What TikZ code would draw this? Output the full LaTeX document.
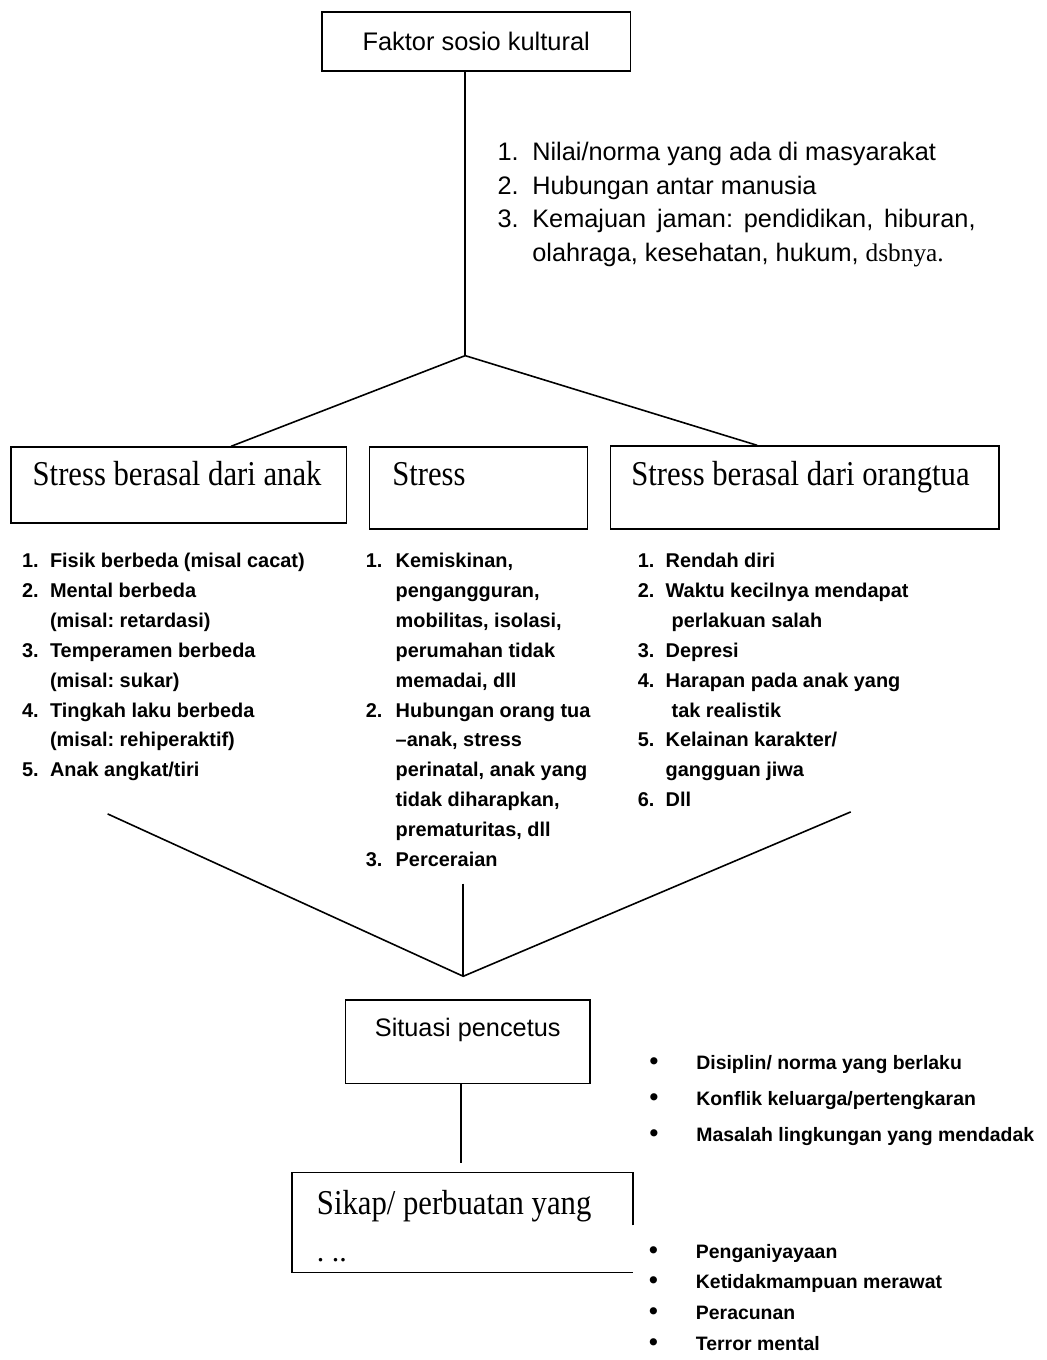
\documentclass[tikz,border=0pt]{standalone}
\usepackage{fontspec}
\setmainfont{Liberation Serif}
\newfontfamily\arialfont{Liberation Sans}
\newfontfamily\narrowserif[FakeStretch=0.88]{Liberation Serif}
\usepackage{array}
\usetikzlibrary{positioning}
\frenchspacing
\newcommand{\bigbul}{{\fontsize{25}{25}\selectfont •}}

\begin{document}
\begin{tikzpicture}[
  x=1pt, y=-1pt,
  ln/.style={line width=1.6pt, black},
  box/.style={rectangle, draw=black, line width=1.6pt, inner sep=0pt},
  sbox/.style={rectangle, draw=black, line width=1.6pt, inner ysep=0pt, align=flush left, anchor=north west, font=\narrowserif\fontsize{35}{40}\selectfont},
  lst/.style={inner sep=0pt, font=\arialfont\bfseries\fontsize{20}{30}\selectfont},
  bul/.style={inner sep=0pt, font=\arialfont\bfseries\fontsize{19.5}{36}\selectfont},
]
\path[fill=white] (0,0) rectangle (1051,1360);
\node[box, minimum width=310pt, minimum height=59pt, font=\arialfont\fontsize{25.5}{30}\selectfont] (faktor) at (478,41.5) {Faktor sosio kultural};
\node[inner sep=0pt, font=\arialfont\fontsize{25.4}{34}\selectfont, below right=65pt and 177pt of faktor.south west] (nilai) {\begin{tabular}[t]{@{}p{35pt}@{}l@{}}
1. & Nilai/norma yang ada di masyarakat\\
2. & Hubungan antar manusia\\
3. & \makebox[445pt][s]{Kemajuan jaman: pendidikan, hiburan,}\\
 & olahraga, kesehatan, hukum, {\rmfamily dsbnya.}
\end{tabular}};
\coordinate (jn1) at (467,357);
\node[sbox, inner xsep=22pt, text width=293pt, text height=39pt, text depth=37pt] (anak) at (10,448) {Stress berasal dari anak};
\node[sbox, inner xsep=23pt, text width=173pt, text height=39pt, text depth=43pt] (stress) at (370,448) {Stress};
\node[sbox, inner xsep=21pt, text width=348pt, text height=40pt, text depth=43pt] (ortu) at (612,447) {Stress berasal dari orangtua};
\node[lst, below right=23pt and 12pt of anak.south west] (anaklist) {\begin{tabular}[t]{@{}p{28pt}@{}l@{}}
1. & Fisik berbeda (misal cacat)\\
2. & Mental berbeda\\
 & (misal: retardasi)\\
3. & Temperamen berbeda\\
 & (misal: sukar)\\
4. & Tingkah laku berbeda\\
 & (misal: rehiperaktif)\\
5. & Anak angkat/tiri
\end{tabular}};
\node[lst, below right=17pt and -3pt of stress.south west] (stresslist) {\begin{tabular}[t]{@{}p{30pt}@{}l@{}}
1. & Kemiskinan,\\
 & pengangguran,\\
 & mobilitas, isolasi,\\
 & perumahan tidak\\
 & memadai, dll\\
2. & Hubungan orang tua\\
 & –anak, stress\\
 & perinatal, anak yang\\
 & tidak diharapkan,\\
 & prematuritas, dll\\
3. & Perceraian
\end{tabular}};
\node[lst, below right=17pt and 28pt of ortu.south west] (ortulist) {\begin{tabular}[t]{@{}p{28pt}@{}l@{}}
1. & Rendah diri\\
2. & Waktu kecilnya mendapat\\
 & \hspace{6pt}perlakuan salah\\
3. & Depresi\\
4. & Harapan pada anak yang\\
 & \hspace{6pt}tak realistik\\
5. & Kelainan karakter/\\
 & gangguan jiwa\\
6. & Dll
\end{tabular}};
% lower part
\coordinate (vl) at (108,817);
\coordinate (vr) at (854,815);
\coordinate (vm) at (465,887);
\coordinate (jn2) at (465,980);
\node[box, anchor=north, minimum width=245pt, text height=37pt, text depth=47pt, font=\arialfont\fontsize{25.4}{30}\selectfont] (situasi) at (469.5,1003) {Situasi pencetus};
\node[bul, below right=45pt and 59pt of situasi.north east] (pencetus) {\begin{tabular}[t]{@{}p{47pt}@{}l@{}}
\bigbul & Disiplin/ norma yang berlaku\\
\bigbul & Konflik keluarga/pertengkaran\\
\bigbul & Masalah lingkungan yang mendadak
\end{tabular}};
\node[anchor=north west, inner xsep=25pt, inner ysep=0pt, text width=292pt, align=flush left, text height=42pt, text depth=58pt, font=\narrowserif\fontsize{35}{40}\selectfont] (sikap) at (293,1177) {Sikap/ perbuatan yang};
\node[inner sep=0pt, font=\fontsize{30}{35}\selectfont, above right=10pt and 25pt of sikap.south west] (sikapdots) {. ..};
\node[bul, font=\arialfont\bfseries\fontsize{19.5}{31}\selectfont, below right=64pt and 16pt of sikap.north east] (bentuk) {\begin{tabular}[t]{@{}p{47pt}@{}l@{}}
\bigbul & Penganiyayaan\\
\bigbul & Ketidakmampuan merawat\\
\bigbul & Peracunan\\
\bigbul & Terror mental
\end{tabular}};
% lines
\draw[ln] ([xshift=-11pt]faktor.south) -- (jn1);
\draw[ln] ([xshift=222pt]anak.north west) -- (jn1) -- ([xshift=148pt]ortu.north west);
\draw[ln] (vl) -- (jn2) -- (vr);
\draw[ln] (vm) -- (jn2);
\draw[ln, shorten >=10pt] ([xshift=-6.5pt]situasi.south) -- ([xshift=-6.5pt]situasi.south |- sikap.north);
\draw[line width=1.6pt] ([yshift=-53pt]sikap.north east) -- (sikap.north east) -- (sikap.north west) -- (sikap.south west) -- (sikap.south east);
\end{tikzpicture}
\end{document}
